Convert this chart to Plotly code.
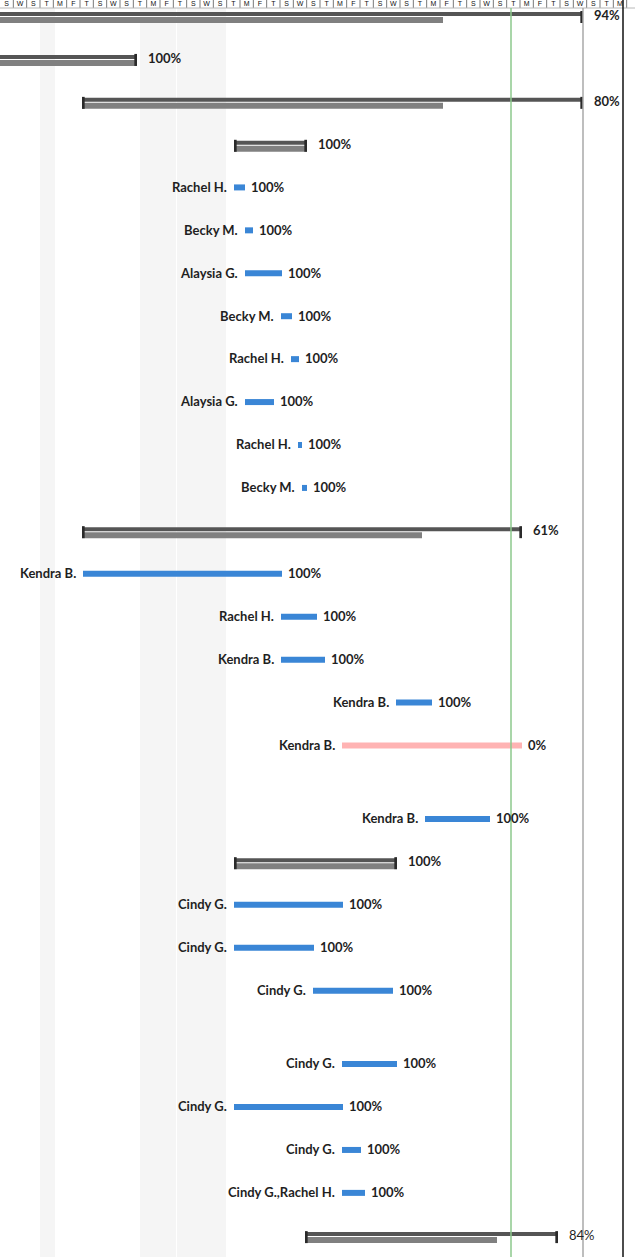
import plotly.graph_objects as go

# ---------------- data ----------------
header_letters = ["S", "W", "S", "T", "M", "F", "T"] * 7
resources = ["", "", "", "", "Rachel H.", "Becky M.", "Alaysia G.", "Becky M.", "Rachel H.",
             "Alaysia G.", "Rachel H.", "Becky M.", "", "Kendra B.", "Rachel H.", "Kendra B.",
             "Kendra B.", "Kendra B.", "Kendra B.", "", "Cindy G.", "Cindy G.", "Cindy G.",
             "Cindy G.", "Cindy G.", "Cindy G.", "Cindy G.,Rachel H.", ""]
is_summary = [1, 1, 1, 1, 0, 0, 0, 0, 0, 0, 0, 0, 1, 0, 0, 0, 0, 0, 0, 1, 0, 0, 0, 0, 0, 0, 0, 1]
start_day = [-20, -20, 24.6, 70.2, 70.2, 73.5, 73.5, 84.3, 87.3, 73.5, 89.4, 90.6, 24.6, 24.9,
             84.3, 84.3, 118.8, 102.6, 127.5, 70.2, 70.2, 70.2, 93.9, 102.6, 70.2, 102.6, 102.6, 91.5]
end_day = [174.9, 41.1, 174.9, 92.1, 73.5, 75.9, 84.6, 87.6, 89.7, 82.2, 90.6, 92.1, 156.6, 84.6,
           95.1, 97.5, 129.6, 156.6, 147.0, 119.1, 102.9, 94.2, 117.9, 119.1, 102.9, 108.3, 109.5, 167.4]
progress_day = [132.9, 41.1, 132.9, 92.1, None, None, None, None, None, None, None, None, 126.6,
                None, None, None, None, None, None, 119.1, None, None, None, None, None, None, None, 149.1]
pct_complete = [94, 100, 80, 100, 100, 100, 100, 100, 100, 100, 100, 100, 61, 100, 100, 100, 100, 0,
                100, 100, 100, 100, 100, 100, 100, 100, 100, 84]
nonworking = [(12.0, 16.5), (42.0, 52.8), (53.1, 67.8)]
today_day = 153.3
finish_day = 174.9
edge_day = 186.9

# ---------------- layout constants ----------------
W, H = 635, 1257
PX_PER_DAY = 10 / 3
X_MAX = W / PX_PER_DAY
ROW0, ROW_H, EXTRA = 15.0, 42.93, 30.5
extra_after = [18, 23]
HEADER_Y = 8

def row_y(i):
    return ROW0 + ROW_H * i + EXTRA * sum(1 for r in extra_after if i >= r)

ys = [row_y(i) for i in range(len(resources))]

FONT = "Lato"
TXT = "#1f1f1f"
FS = 13

fig = go.Figure()

# task bars
for color, cond in [("#3A86D6", lambda p: p > 0), ("#FFB3B3", lambda p: p == 0)]:
    idx = [i for i in range(len(ys)) if not is_summary[i] and cond(pct_complete[i])]
    fig.add_trace(go.Bar(
        orientation="h",
        y=[ys[i] + 0.7 for i in idx],
        base=[start_day[i] for i in idx],
        x=[end_day[i] - start_day[i] for i in idx],
        width=6, marker=dict(color=color, line=dict(width=0)),
        hoverinfo="skip", showlegend=False))

# summary bars
sidx = [i for i in range(len(ys)) if is_summary[i]]
fig.add_trace(go.Bar(
    orientation="h", y=[ys[i] - 1 for i in sidx], base=[start_day[i] for i in sidx],
    x=[end_day[i] - start_day[i] for i in sidx], width=4,
    marker=dict(color="#555555", line=dict(width=0)), hoverinfo="skip", showlegend=False))
fig.add_trace(go.Bar(
    orientation="h", y=[ys[i] + 5 for i in sidx], base=[start_day[i] for i in sidx],
    x=[progress_day[i] - start_day[i] for i in sidx], width=6,
    marker=dict(color="#808080", line=dict(width=0)), hoverinfo="skip", showlegend=False))
cap_w = 0.8
caps_y, caps_base = [], []
for i in sidx:
    for d in (start_day[i], end_day[i] - cap_w):
        caps_y.append(ys[i] + 2)
        caps_base.append(d)
fig.add_trace(go.Bar(
    orientation="h", y=caps_y, base=caps_base, x=[cap_w] * len(caps_y), width=12,
    marker=dict(color="#2A2A2A", line=dict(width=0)), hoverinfo="skip", showlegend=False))

annotations = []
for i, y in enumerate(ys):
    if resources[i]:
        annotations.append(dict(x=start_day[i], y=y, xref="x", yref="y", text=resources[i],
                                showarrow=False, xanchor="right", yanchor="middle", xshift=-5,
                                font=dict(family=FONT, size=FS, color=TXT, weight="bold")))
    weight = "normal" if i == len(ys) - 1 else "bold"
    annotations.append(dict(x=end_day[i], y=y, xref="x", yref="y", text=f"{pct_complete[i]}%",
                            showarrow=False, xanchor="left", yanchor="middle",
                            xshift=9 if is_summary[i] else 4,
                            font=dict(family=FONT, size=FS, color=TXT, weight=weight)))

# header letters: text trace sized to fit the thin visible header strip
cell = 4.0
hx, ht = [], []
for k, letter in enumerate(header_letters):
    cx = cell * k + cell / 2
    if cx > X_MAX - 1.2:
        break
    hx.append(cx)
    ht.append(letter)
fig.add_trace(go.Scatter(
    x=hx, y=[HEADER_Y / 2] * len(hx), mode="text", text=ht, textposition="middle center",
    textfont=dict(family="Liberation Sans", size=7, color="#111111"),
    hoverinfo="skip", showlegend=False, cliponaxis=False))

shapes = []
for a, b in nonworking:
    shapes.append(dict(type="rect", xref="x", yref="y", x0=a, x1=b, y0=HEADER_Y, y1=H,
                       fillcolor="#F5F5F5", line=dict(width=0), layer="below"))
k = 1
while cell * k < X_MAX:
    shapes.append(dict(type="line", xref="x", yref="y", x0=cell * k, x1=cell * k, y0=0, y1=HEADER_Y,
                       line=dict(color="#7A7A7A", width=1)))
    k += 1
shapes.append(dict(type="line", xref="x", yref="y", x0=0, x1=X_MAX, y0=HEADER_Y, y1=HEADER_Y,
                   line=dict(color="#B8B8B8", width=1)))
shapes.append(dict(type="line", xref="x", yref="y", x0=today_day, x1=today_day, y0=HEADER_Y, y1=H,
                   line=dict(color="#8CC98C", width=1.5), layer="above"))
shapes.append(dict(type="line", xref="x", yref="y", x0=finish_day, x1=finish_day, y0=HEADER_Y, y1=H,
                   line=dict(color="#A8A8A8", width=1.5), layer="above"))
shapes.append(dict(type="line", xref="x", yref="y", x0=edge_day, x1=edge_day, y0=0, y1=H,
                   line=dict(color="#111111", width=1.5), layer="above"))

fig.update_layout(
    width=W, height=H, margin=dict(l=0, r=0, t=0, b=0),
    paper_bgcolor="white", plot_bgcolor="white", barmode="overlay",
    xaxis=dict(range=[0, X_MAX], visible=False, fixedrange=True),
    yaxis=dict(range=[H, 0], visible=False, fixedrange=True),
    annotations=annotations, shapes=shapes, showlegend=False, hovermode=False)

fig.write_html("out.html", config={"displayModeBar": False, "staticPlot": True},
               post_script="document.body.style.margin='0';document.body.style.overflow='hidden';")
